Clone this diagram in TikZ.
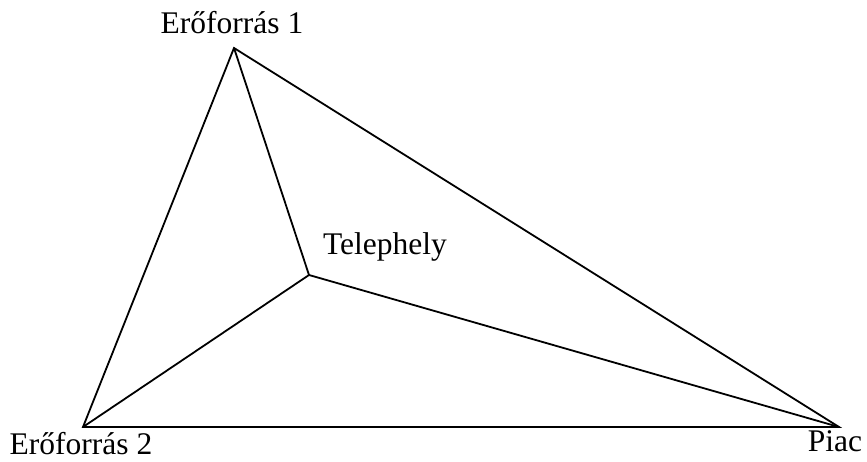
\documentclass[tikz,border=0pt]{standalone}
\usepackage{fontspec}
\setmainfont{Liberation Serif}
\usetikzlibrary{positioning}

\begin{document}
\begin{tikzpicture}[x=1pt, y=1pt, line width=1.8pt, line join=miter,
    lbl/.style={inner sep=0pt, anchor=base, font=\fontsize{31.5}{36}\selectfont}]
  \useasboundingbox (0,0) rectangle (867,462);
  % csucsok
  \coordinate (e1) at (234,414);
  \coordinate (e2) at (83,35);
  \coordinate (piac) at (839,35);
  \coordinate (tel) at (309,187);
  % feliratok
  \node[lbl] (le1) at (232,428) {Erőforrás 1};
  \node[lbl] (le2) at (81,7) {Erőforrás 2};
  \node[lbl] (lpiac) at (835,10) {Piac};
  \node[lbl] (ltel) at (385,207) {Telephely};
  % elek
  \draw (e1) -- (e2) -- (piac) -- cycle;
  \draw (e1) -- (tel);
  \draw (e2) -- (tel);
  \draw (piac) -- (tel);
\end{tikzpicture}
\end{document}
